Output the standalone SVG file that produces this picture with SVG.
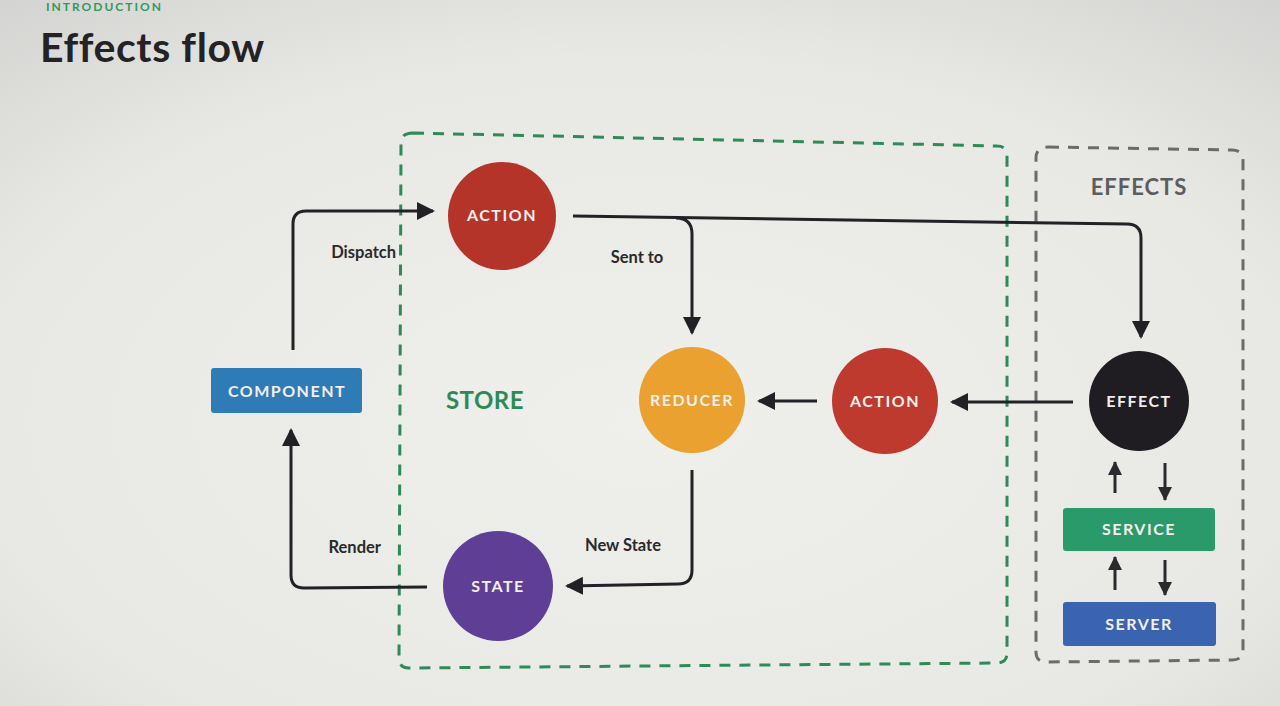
<svg xmlns="http://www.w3.org/2000/svg" width="1280" height="706" viewBox="0 0 1280 706">
<defs>
<radialGradient id="bg" cx="0.5" cy="0.6" r="0.8">
<stop offset="0" stop-color="#efefec"/>
<stop offset="0.65" stop-color="#e8e8e5"/>
<stop offset="1" stop-color="#d2d2d0"/>
</radialGradient>
<marker id="ah" markerUnits="userSpaceOnUse" viewBox="0 0 18 18" markerWidth="18" markerHeight="18" refX="16" refY="9" orient="auto">
<path d="M0,0 L18,9 L0,18 Z" fill="#222226"/>
</marker>
<marker id="ahs" markerUnits="userSpaceOnUse" viewBox="0 0 14 14" markerWidth="14" markerHeight="14" refX="13" refY="7" orient="auto">
<path d="M0,0 L14,7 L0,14 Z" fill="#2a2a2e"/>
</marker>
<style>
.lbl{font-family:Lato,"Noto Sans",sans-serif;font-weight:700;fill:#f4eeea;font-size:16px;letter-spacing:1.5px;text-anchor:middle}
.edge{fill:none;stroke:#222226;stroke-width:3;marker-end:url(#ah)}
.small{fill:none;stroke:#2a2a2e;stroke-width:3;marker-end:url(#ahs)}
.elbl{font-family:Lato,"Noto Sans",sans-serif;font-weight:700;fill:#2a2a2c;font-size:16.5px}
</style>
</defs>
<rect width="1280" height="706" fill="url(#bg)"/>
<text x="46" y="11" font-family="Lato,'Noto Sans',sans-serif" font-weight="700" font-size="12" fill="#2f9a5e" letter-spacing="2">INTRODUCTION</text>
<text x="40" y="62" font-family="Lato,'Noto Sans',sans-serif" font-weight="700" font-size="41" fill="#232225" letter-spacing="0.6">Effects flow</text>

<g id="store">
<path d="M413,133 L997,146 Q1007,146 1007,156 L1007,653 Q1007,663 997,663 L409,668 Q399,668 399,658 L401,143 Q401,133 413,133 Z" fill="none" stroke="#2e8a58" stroke-width="3" stroke-dasharray="11,9"/>
<text x="485" y="409" font-family="Lato,'Noto Sans',sans-serif" font-weight="700" font-size="24" fill="#2e8a55" text-anchor="middle" letter-spacing="0.5">STORE</text>
</g>
<g id="effects">
<path d="M1048,147 L1232,150 Q1243,150 1243,161 L1243,650 Q1243,660 1232,660 L1046,662 Q1036,662 1036,652 L1036,158 Q1036,147 1048,147 Z" fill="none" stroke="#6b6b6b" stroke-width="3" stroke-dasharray="11,9"/>
<text x="1139" y="195" font-family="Lato,'Noto Sans',sans-serif" font-weight="700" font-size="22" fill="#5d5d60" text-anchor="middle" letter-spacing="1">EFFECTS</text>
</g>

<g id="connectors">
<path class="edge" d="M293,350 V224 Q293,211 306,211 H433"/>
<path class="edge" d="M573,216 L1127,224 Q1141,224 1141,238 V337"/>
<path class="edge" d="M676,218 Q692,218 692,234 V333"/>
<path class="edge" d="M1073,402 H952"/>
<path class="edge" d="M817,401 H759"/>
<path class="edge" d="M692,470 V570 Q692,584 678,584 L567,586"/>
<path class="edge" d="M427,587 L304,588 Q291,588 291,575 V430"/>
<path class="small" d="M1115,493 V462"/>
<path class="small" d="M1165,463 V500"/>
<path class="small" d="M1115,590 V557"/>
<path class="small" d="M1165,560 V595"/>
<text class="elbl" x="396" y="258" text-anchor="end">Dispatch</text>
<text class="elbl" x="637" y="263" text-anchor="middle">Sent to</text>
<text class="elbl" x="381" y="553" text-anchor="end">Render</text>
<text class="elbl" x="623" y="551" text-anchor="middle">New State</text>
</g>

<g id="action1"><circle cx="502" cy="216" r="54" fill="#b5342a"/><text class="lbl" x="502" y="221">ACTION</text></g>
<g id="component"><rect x="211" y="368" width="151" height="45" rx="3" fill="#2f7bb5"/><text class="lbl" x="287" y="397">COMPONENT</text></g>
<g id="reducer"><circle cx="692" cy="400" r="53" fill="#eba12f"/><text class="lbl" x="692" y="406">REDUCER</text></g>
<g id="action2"><circle cx="885" cy="401" r="53" fill="#bf3a2e"/><text class="lbl" x="885" y="407">ACTION</text></g>
<g id="effect"><circle cx="1139" cy="401" r="50" fill="#1f1d22"/><text class="lbl" x="1139" y="407">EFFECT</text></g>
<g id="service"><rect x="1063" y="508" width="152" height="43" rx="3" fill="#2b9a6a"/><text class="lbl" x="1139" y="535">SERVICE</text></g>
<g id="server"><rect x="1063" y="602" width="153" height="44" rx="3" fill="#3b64b0"/><text class="lbl" x="1139" y="630">SERVER</text></g>
<g id="state"><circle cx="498" cy="586" r="55" fill="#5f3f96"/><text class="lbl" x="498" y="592">STATE</text></g>
</svg>
